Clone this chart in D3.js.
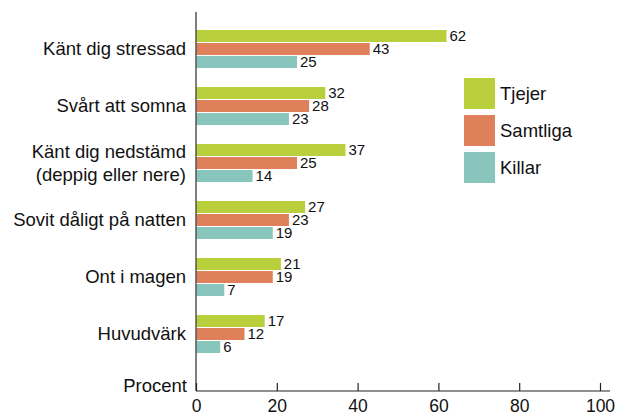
<!DOCTYPE html>
<html><head><meta charset="utf-8">
<script src="https://cdn.jsdelivr.net/npm/d3@7"></script>
<style>body{margin:0;background:#fff}svg{font-family:"Liberation Sans",Arial,Helvetica,sans-serif}</style>
</head><body><svg id="c" width="617" height="415"></svg>
<script>
const categories = ["Känt dig stressad","Svårt att somna","Känt dig nedstämd\n(deppig eller nere)","Sovit dåligt på natten","Ont i magen","Huvudvärk"];
const seriesNames = ["Tjejer","Samtliga","Killar"];
const tjejer = [62,32,37,27,21,17];
const samtliga = [43,28,25,23,19,12];
const killar = [25,23,14,19,7,6];
const ticks = [0,20,40,60,80,100];
const colors = ["#b9cf3c","#e0805a","#87c5bd"];
const values = [tjejer, samtliga, killar];

const svg = d3.select("#c");
const x = d3.scaleLinear().domain([0,100]).range([196,600]);
const y = d3.scaleBand().domain(categories).range([30,353]).paddingInner(19/57).paddingOuter(0);
const yInner = d3.scaleBand().domain(seriesNames).range([0, y.bandwidth()]).paddingInner(0.08);

categories.forEach((c,i)=>{
  const g = svg.append("g").attr("transform",`translate(0,${y(c)})`);
  seriesNames.forEach((s,j)=>{
    const v = values[j][i];
    g.append("rect").attr("x",x(0)).attr("y",yInner(s)).attr("width",x(v)-x(0)).attr("height",yInner.bandwidth()).attr("fill",colors[j]);
    g.append("text").attr("x",x(v)+3).attr("y",yInner(s)+yInner.bandwidth()/2).attr("dy","0.3em")
      .attr("font-size",15).attr("fill","#111").text(v);
  });
  const lines = c.split("\n");
  const cy = y(c)+y.bandwidth()/2;
  const lh = 23;
  lines.forEach((l,k)=>{
    svg.append("text").attr("x",186).attr("y",cy+(k-(lines.length-1)/2)*lh).attr("dy","0.35em")
      .attr("text-anchor","end").attr("font-size",18.5).attr("fill","#111").text(l);
  });
});

// axes
const axisY = 391;
svg.append("line").attr("x1",196).attr("x2",196).attr("y1",12).attr("y2",axisY).attr("stroke","#555").attr("stroke-width",1.5);
const xAxis = d3.axisBottom(x).tickValues(ticks).tickSize(-8).tickPadding(9).tickFormat(d3.format("d"));
const ag = svg.append("g").attr("transform",`translate(0,${axisY})`).call(xAxis);
ag.select(".domain").attr("d",`M196,0H610`).attr("stroke","#222").attr("stroke-width",1.2);
ag.selectAll(".tick line").attr("stroke","#222").attr("stroke-width",1.2);
ag.selectAll(".tick text").attr("font-size",17.5).attr("fill","#111").attr("font-family","Liberation Sans, Arial, sans-serif");
svg.append("text").attr("x",187).attr("y",392).attr("text-anchor","end").attr("font-size",18.5).attr("fill","#111").text("Procent");

// legend
const lg = svg.append("g");
seriesNames.forEach((s,j)=>{
  lg.append("rect").attr("x",464).attr("y",78+j*37).attr("width",31).attr("height",31).attr("fill",colors[j]);
  lg.append("text").attr("x",500).attr("y",78+j*37+15.5).attr("dy","0.35em").attr("font-size",18.5).attr("fill","#111").text(s);
});
</script></body></html>
